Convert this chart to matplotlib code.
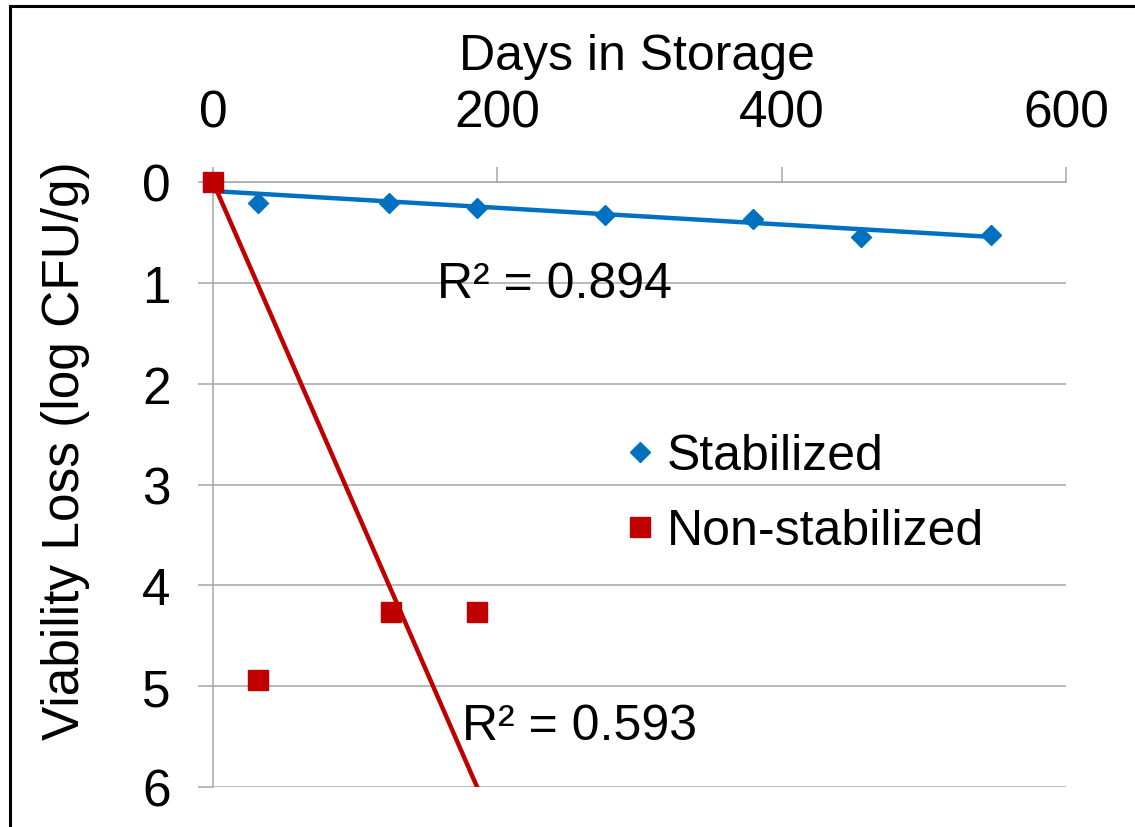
import numpy as np
import matplotlib
matplotlib.use("Agg")
import matplotlib.pyplot as plt
from matplotlib.lines import Line2D

plt.rcParams["font.family"] = ["Liberation Sans", "DejaVu Sans"]

# values
stab_days = [0, 32, 124, 186, 276, 380, 456, 547]
stab_loss = [0.0, 0.21, 0.21, 0.26, 0.33, 0.37, 0.55, 0.53]
nonstab_days = [0, 32, 125, 186]
nonstab_loss = [0.0, 4.94, 4.26, 4.26]

# trendlines as drawn in the reference (intercept, slope)
stab_fit = (0.09, 0.00083)
nonstab_fit = (0.0, 0.0323)
stab_r2 = "R² = 0.894"
nonstab_r2 = "R² = 0.593"

x_ticks = [0, 200, 400, 600]
y_ticks = [0, 1, 2, 3, 4, 5, 6]

BLUE = "#0070C0"
RED = "#C00000"
GRID = "#A6A6A6"
W, H = 1135, 828

fig = plt.figure(figsize=(W / 100, H / 100), dpi=100)
ax = fig.add_axes([213 / W, 1 - 788 / H, (1066 - 213) / W, (788 - 183) / H])

# trendlines
xs = np.array([0, max(stab_days)])
ax.plot(xs, stab_fit[0] + stab_fit[1] * xs, color=BLUE, lw=3.2, zorder=2)
xr = np.array([0, x_ticks[-1]])
ax.plot(xr, nonstab_fit[0] + nonstab_fit[1] * xr, color=RED, lw=3.2, zorder=2)

ax.plot(stab_days, stab_loss, ls="none", marker="D", ms=9.7, color=BLUE,
        mec=BLUE, zorder=3, label="Stabilized", clip_on=False)
ax.plot(nonstab_days, nonstab_loss, ls="none", marker="s", ms=14.4,
        color=RED, mec=RED, zorder=4, label="Non-stabilized", clip_on=False)

ax.set_xlim(0, 600)
ax.set_ylim(6, 0)
ax.set_xticks(x_ticks)
ax.set_yticks(y_ticks)
ax.xaxis.tick_top()
ax.tick_params(axis="x", direction="out", length=11, width=1.1, color=GRID,
               labelsize=37, pad=21)
ax.tick_params(axis="y", direction="out", length=11, width=1.1, color=GRID,
               labelsize=37, pad=19.5)
ax.yaxis.grid(True, color=GRID, lw=1.1)
ax.set_axisbelow(True)
for side in ["right", "bottom"]:
    ax.spines[side].set_visible(False)
for side in ["left", "top"]:
    ax.spines[side].set_color(GRID)
    ax.spines[side].set_linewidth(1.1)

ax.text(437 / W, 1 - 298 / H, stab_r2, transform=fig.transFigure,
        fontsize=36, va="baseline", ha="left")
ax.text(462 / W, 1 - 740 / H, nonstab_r2, transform=fig.transFigure,
        fontsize=36, va="baseline", ha="left")

fig.text(637 / W, 1 - 70 / H, "Days in Storage", fontsize=36,
         ha="center", va="baseline")
fig.text(66 / W, 1 - 740 / H, "Viability Loss (log CFU/g)", fontsize=37,
         rotation=90, ha="center", va="bottom")

ax.legend(loc="upper left", bbox_to_anchor=(627 / W, 1 - 434 / H),
          bbox_transform=fig.transFigure, frameon=False, fontsize=36,
          handlelength=0.5, handletextpad=0.3, labelspacing=0.58,
          borderpad=0, borderaxespad=0, markerscale=1.0)

# outer frame (left and top edges visible)
fig.add_artist(Line2D([10 / W, 10 / W], [0, 1 - 7 / H], color="black", lw=2.2,
                      transform=fig.transFigure))
fig.add_artist(Line2D([10 / W, 1], [1 - 7 / H, 1 - 7 / H], color="black",
                      lw=2.2, transform=fig.transFigure))

fig.savefig("out.png", dpi=100)
plt.close(fig)
